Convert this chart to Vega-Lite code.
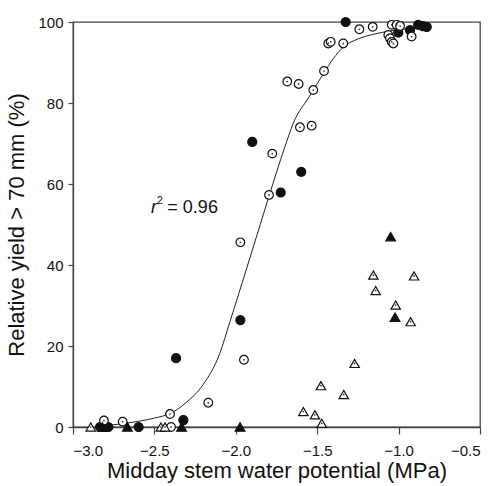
{
  "$schema": "https://vega.github.io/schema/vega-lite/v6.json",
  "autosize": "none",
  "width": 407,
  "height": 405,
  "padding": {"left": 73, "top": 22, "right": 15, "bottom": 59},
  "background": "white",
  "config": {
    "font": "Liberation Sans",
    "view": {"stroke": "#444", "strokeWidth": 1.3},
    "axis": {"domainColor": "#444", "tickColor": "#444", "labelColor": "#111", "titleColor": "#111", "grid": false, "labelFont": "Liberation Sans", "titleFont": "Liberation Sans", "titleFontWeight": "normal", "domainWidth": 1.3, "tickWidth": 1.2}
  },
  "datasets": {
    "pts": [
      {"x": -1.325, "y": 100, "g": "B"},
      {"x": -1.002, "y": 97.4, "g": "B"},
      {"x": -0.93, "y": 98.0, "g": "B"},
      {"x": -0.88, "y": 99.3, "g": "B"},
      {"x": -0.85, "y": 99.0, "g": "B"},
      {"x": -0.827, "y": 98.8, "g": "B"},
      {"x": -1.899, "y": 70.4, "g": "B"},
      {"x": -1.598, "y": 63.0, "g": "B"},
      {"x": -1.724, "y": 57.9, "g": "B"},
      {"x": -1.972, "y": 26.4, "g": "B"},
      {"x": -2.367, "y": 17.0, "g": "B"},
      {"x": -2.322, "y": 1.7, "g": "B"},
      {"x": -2.834, "y": 0, "g": "B"},
      {"x": -2.81, "y": 0, "g": "B"},
      {"x": -2.783, "y": 0, "g": "B"},
      {"x": -2.597, "y": 0, "g": "B"},
      {"x": -1.241, "y": 98.2, "g": "A"},
      {"x": -1.159, "y": 98.8, "g": "A"},
      {"x": -1.432, "y": 94.7, "g": "A"},
      {"x": -1.417, "y": 95.1, "g": "A"},
      {"x": -1.34, "y": 94.7, "g": "A"},
      {"x": -1.042, "y": 99.3, "g": "A"},
      {"x": -1.012, "y": 99.3, "g": "A"},
      {"x": -0.991, "y": 99.0, "g": "A"},
      {"x": -1.063, "y": 96.8, "g": "A"},
      {"x": -1.053, "y": 96.0, "g": "A"},
      {"x": -1.042, "y": 95.1, "g": "A"},
      {"x": -1.032, "y": 94.7, "g": "A"},
      {"x": -0.92, "y": 96.4, "g": "A"},
      {"x": -1.458, "y": 87.9, "g": "A"},
      {"x": -1.684, "y": 85.3, "g": "A"},
      {"x": -1.614, "y": 84.7, "g": "A"},
      {"x": -1.524, "y": 83.2, "g": "A"},
      {"x": -1.606, "y": 74.0, "g": "A"},
      {"x": -1.534, "y": 74.4, "g": "A"},
      {"x": -1.776, "y": 67.5, "g": "A"},
      {"x": -1.796, "y": 57.3, "g": "A"},
      {"x": -1.972, "y": 45.6, "g": "A"},
      {"x": -1.95, "y": 16.6, "g": "A"},
      {"x": -2.169, "y": 6.0, "g": "A"},
      {"x": -2.404, "y": 3.2, "g": "A"},
      {"x": -2.398, "y": 0, "g": "A"},
      {"x": -2.81, "y": 1.6, "g": "A"},
      {"x": -2.695, "y": 1.3, "g": "A"},
      {"x": -1.155, "y": 37.5, "g": "C"},
      {"x": -0.905, "y": 37.3, "g": "C"},
      {"x": -1.141, "y": 33.7, "g": "C"},
      {"x": -1.018, "y": 30.1, "g": "C"},
      {"x": -0.926, "y": 26.0, "g": "C"},
      {"x": -1.27, "y": 15.7, "g": "C"},
      {"x": -1.477, "y": 10.2, "g": "C"},
      {"x": -1.337, "y": 8.0, "g": "C"},
      {"x": -1.585, "y": 3.8, "g": "C"},
      {"x": -1.514, "y": 3.0, "g": "C"},
      {"x": -1.472, "y": 0.9, "g": "C"},
      {"x": -2.891, "y": 0, "g": "C"},
      {"x": -2.46, "y": 0, "g": "C"},
      {"x": -2.435, "y": 0, "g": "C"},
      {"x": -1.049, "y": 47.0, "g": "D"},
      {"x": -1.022, "y": 27.1, "g": "D"},
      {"x": -1.974, "y": 0, "g": "D"},
      {"x": -2.666, "y": 0, "g": "D"},
      {"x": -2.333, "y": 0, "g": "D"},
      {"x": -2.82, "y": 0, "g": "D"}
    ],
    "curve": [
      {"x": -2.8, "y": 0.3},
      {"x": -2.7, "y": 0.8},
      {"x": -2.6, "y": 1.4},
      {"x": -2.5, "y": 2.2},
      {"x": -2.4, "y": 3.4},
      {"x": -2.3, "y": 6.2},
      {"x": -2.2, "y": 10.5},
      {"x": -2.1, "y": 18},
      {"x": -2.036, "y": 26},
      {"x": -1.95, "y": 37},
      {"x": -1.85, "y": 50},
      {"x": -1.796, "y": 57},
      {"x": -1.7, "y": 69},
      {"x": -1.647, "y": 75},
      {"x": -1.55, "y": 81.5},
      {"x": -1.458, "y": 87.5},
      {"x": -1.4, "y": 91},
      {"x": -1.34, "y": 93.8},
      {"x": -1.25, "y": 95.8},
      {"x": -1.15, "y": 97},
      {"x": -1.05, "y": 97.8},
      {"x": -0.95, "y": 98.3},
      {"x": -0.82, "y": 98.7}
    ],
    "ann": [{"x": -2.11, "y": 54}]
  },
  "layer": [
    {
      "data": {"name": "curve"},
      "mark": {"type": "line", "color": "#222", "strokeWidth": 1, "interpolate": "monotone"},
      "encoding": {
        "x": {"field": "x", "type": "quantitative", "scale": {"domain": [-3, -0.5], "nice": false, "zero": false},
          "axis": {"values": [-3, -2.5, -2, -1.5, -1, -0.5], "format": ".1f", "title": "Midday stem water potential (MPa)", "labelFontSize": 15, "titleFontSize": 22, "tickSize": 7, "labelPadding": 9, "titlePadding": 2}},
        "y": {"field": "y", "type": "quantitative", "scale": {"domain": [0, 100], "nice": false},
          "axis": {"values": [0, 20, 40, 60, 80, 100], "title": "Relative yield > 70 mm (%)", "labelFontSize": 15, "titleFontSize": 22, "tickSize": 5, "labelPadding": 5, "titlePadding": 9}}
      }
    },
    {
      "data": {"name": "pts"},
      "mark": {"type": "point", "strokeWidth": 1.2, "opacity": 1},
      "encoding": {
        "x": {"field": "x", "type": "quantitative"},
        "y": {"field": "y", "type": "quantitative"},
        "shape": {"field": "g", "type": "nominal", "scale": {"domain": ["A", "B", "C", "D"], "range": ["circle", "circle", "triangle-up", "triangle-up"]}, "legend": null},
        "fill": {"field": "g", "type": "nominal", "scale": {"domain": ["A", "B", "C", "D"], "range": ["white", "#111", "white", "#111"]}, "legend": null},
        "stroke": {"value": "#111"},
        "size": {"field": "g", "type": "nominal", "scale": {"domain": ["A", "B", "C", "D"], "range": [75, 95, 60, 75]}, "legend": null}
      }
    },
    {
      "data": {"name": "pts"},
      "transform": [{"filter": "datum.g === 'A' || datum.g === 'C'"}],
      "mark": {"type": "circle", "size": 3, "color": "#333", "opacity": 1},
      "encoding": {
        "x": {"field": "x", "type": "quantitative"},
        "y": {"field": "y", "type": "quantitative"}
      }
    },
    {
      "data": {"name": "ann"},
      "mark": {"type": "text", "text": "= 0.96", "align": "right", "baseline": "middle", "fontSize": 18, "color": "#111"},
      "encoding": {"x": {"field": "x", "type": "quantitative"}, "y": {"field": "y", "type": "quantitative"}}
    },
    {
      "data": {"name": "ann"},
      "mark": {"type": "text", "text": "2", "align": "right", "baseline": "middle", "fontSize": 11, "dx": -55, "dy": -7, "color": "#111"},
      "encoding": {"x": {"field": "x", "type": "quantitative"}, "y": {"field": "y", "type": "quantitative"}}
    },
    {
      "data": {"name": "ann"},
      "mark": {"type": "text", "text": "r", "align": "right", "baseline": "middle", "fontSize": 18, "fontStyle": "italic", "dx": -61, "color": "#111"},
      "encoding": {"x": {"field": "x", "type": "quantitative"}, "y": {"field": "y", "type": "quantitative"}}
    }
  ]
}
